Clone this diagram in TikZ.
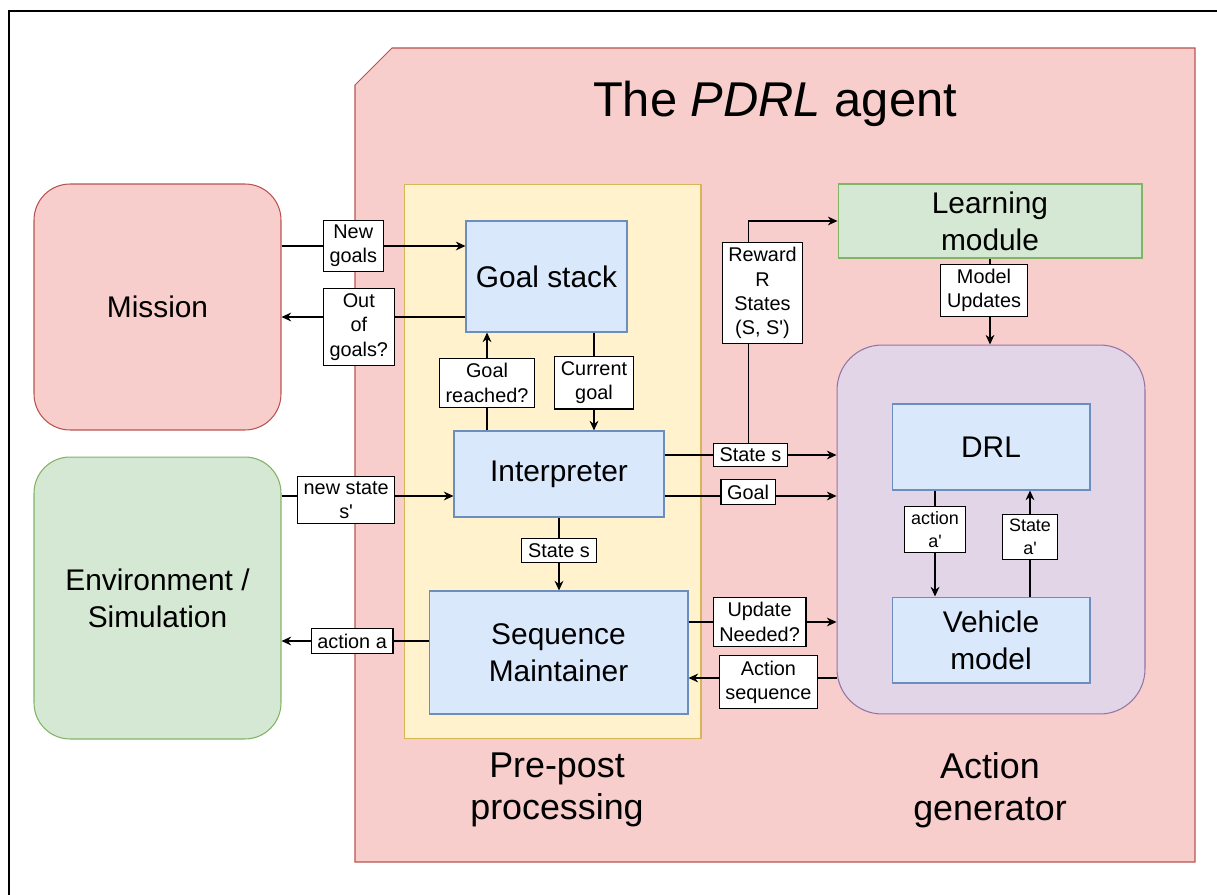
\documentclass[tikz,border=0pt]{standalone}
\usepackage{fontspec}
\setmainfont{Liberation Sans}
\usetikzlibrary{arrows.meta, positioning}

\definecolor{pinkfill}{HTML}{F8CECC}
\definecolor{pinkline}{HTML}{B85450}
\definecolor{greenfill}{HTML}{D5E8D4}
\definecolor{greenline}{HTML}{82B366}
\definecolor{bluefill}{HTML}{DAE8FC}
\definecolor{blueline}{HTML}{6C8EBF}
\definecolor{yellowfill}{HTML}{FFF2CC}
\definecolor{yellowline}{HTML}{D6B656}
\definecolor{purplefill}{HTML}{E1D5E7}
\definecolor{purpleline}{HTML}{9673A6}

\begin{document}
\begin{tikzpicture}[
            x=0.02cm, y=-0.02cm,
            block/.style  ={rectangle, draw=blueline, fill=bluefill, line width=0.6pt,
                            inner sep=0pt, align=center, font=\fontsize{17}{21}\selectfont},
            outer/.style  ={rectangle, rounded corners=0.72cm, line width=0.6pt,
                            inner sep=0pt, align=center, font=\fontsize{17}{21}\selectfont},
            section/.style={align=center, font=\fontsize{20.4}{24}\selectfont},
            lbl/.style    ={rectangle, draw=black, fill=white, line width=0.6pt,
                            inner xsep=3.5pt, inner ysep=2.8pt, align=center,
                            font=\fontsize{11.3}{13.8}\selectfont},
            small/.style  ={font=\fontsize{10.2}{13}\selectfont},
            arrow/.style  ={-{Stealth[length=5.5pt, width=5pt]}, line width=0.7pt}
        ]
        \useasboundingbox (0,0) rectangle (1217,895);
        \draw[line width=1.1pt] (9,895) -- (9,11) -- (1217,11);

        % outside world
        \node[outer, draw=pinkline, fill=pinkfill, minimum width=4.94cm, minimum height=4.92cm]
              (mission) at (157.5,307) {Mission};
        \node[outer, draw=greenline, fill=greenfill, minimum width=4.94cm, minimum height=5.64cm]
              (env) at (157.5,598) {Environment /\\Simulation};

        % the agent
        \draw[draw=pinkline, fill=pinkfill, line width=0.6pt]
              (355,85) -- (392,48) -- (1195,48) -- (1195,862) -- (355,862) -- cycle;
        \node[font=\fontsize{27.8}{33}\selectfont] (title) at (775,104) {The \textit{PDRL} agent};

        \node[rectangle, draw=yellowline, fill=yellowfill, line width=0.6pt,
              minimum width=5.94cm, minimum height=11.1cm] (prepost) at (552.5,461.5) {};
        \node[outer, draw=purpleline, fill=purplefill, rounded corners=0.9cm,
              minimum width=6.16cm, minimum height=7.38cm] (actgen) at (991,529.5) {};
        \node[section] (prepostlbl) at (557,790) {Pre-post\\processing};
        \node[section] (actgenlbl)  at (990,790) {Action\\generator};

        \node[block, draw=greenline, fill=greenfill, minimum width=6.08cm, minimum height=1.48cm]
              (learn) at (990,221) {Learning\\module};
        \node[block, minimum width=3.22cm, minimum height=2.22cm] (goalstack) at (546.5,276.5) {Goal stack};
        \node[block, minimum width=4.2cm,  minimum height=1.72cm] (interp)    at (559,474)     {Interpreter};
        \node[block, minimum width=5.18cm, minimum height=2.46cm] (seqm)      at (558.5,652.5) {Sequence\\Maintainer};
        \node[block, minimum width=3.96cm, minimum height=1.72cm] (drl)       at (991,447)     {DRL};
        \node[block, minimum width=3.96cm, minimum height=1.72cm, below=2.12cm of drl] (vehicle) {Vehicle\\model};

        % ports
        \coordinate (gs-in)   at ([yshift=0.61cm]goalstack.west);
        \coordinate (gs-out)  at ([yshift=-0.81cm]goalstack.west);
        \coordinate (gs-cur)  at ([xshift=0.95cm]goalstack.south);
        \coordinate (ip-rch)  at ([xshift=-1.44cm]interp.north);
        \coordinate (ip-in)   at ([yshift=-0.44cm]interp.west);
        \coordinate (ip-s)    at ([yshift=0.38cm]interp.east);
        \coordinate (ip-g)    at ([yshift=-0.44cm]interp.east);
        \coordinate (rw)      at ([xshift=1.68cm]ip-s);
        \coordinate (sm-out)  at ([yshift=0.23cm]seqm.west);
        \coordinate (sm-up)   at ([yshift=0.61cm]seqm.east);
        \coordinate (sm-seq)  at ([yshift=-0.51cm]seqm.east);
        \coordinate (drl-a)   at ([xshift=-1.12cm]drl.south);
        \coordinate (vm-s)    at ([xshift=0.78cm]vehicle.north);

        \draw[arrow] (mission.east |- gs-in) -- node[lbl, pos=0.39]{New\\goals} (gs-in);
        \draw[arrow] (gs-out) -- node[lbl, pos=0.58, yshift=-0.2cm]{Out\\of\\goals?} (mission.east |- gs-out);
        \draw[arrow] (gs-cur) -- node[lbl, pos=0.515]{Current\\goal} (gs-cur |- interp.north);
        \draw[arrow] (ip-rch) -- node[lbl, pos=0.485]{Goal\\reached?} (ip-rch |- goalstack.south);
        \draw[arrow] (env.east |- ip-in) -- node[lbl, pos=0.376, yshift=-0.08cm]{new state\\s\textquotesingle} (ip-in);
        \draw[arrow] (interp.south) -- node[lbl, pos=0.45]{State s} (interp.south |- seqm.north);
        \draw[arrow] (sm-out) -- node[lbl, pos=0.52]{action a} (env.east |- sm-out);
        \draw[arrow] (rw) |- node[lbl, pos=0.346, xshift=0.28cm]{Reward\\R\\States\\(S, S\textquotesingle)} (learn.west);
        \draw[arrow] (ip-s) -- node[lbl, pos=0.5]{State s} (actgen.west |- ip-s);
        \draw[arrow] (ip-g) -- node[lbl, pos=0.486, yshift=0.08cm]{Goal} (actgen.west |- ip-g);
        \draw[arrow] (learn.south) -- node[lbl, pos=0.37, xshift=-0.12cm]{Model\\Updates} (learn.south |- actgen.north);
        \draw[arrow] (sm-up) -- node[lbl, pos=0.48]{Update\\Needed?} (actgen.west |- sm-up);
        \draw[arrow] (actgen.west |- sm-seq) -- node[lbl, pos=0.46, yshift=-0.08cm]{Action\\sequence} (sm-seq);
        \draw[arrow] (drl-a) -- node[lbl, small, pos=0.37]{action\\a\textquotesingle} (drl-a |- vehicle.north);
        \draw[arrow] (vm-s) -- node[lbl, small, pos=0.56]{State\\a\textquotesingle} (vm-s |- drl.south);
\end{tikzpicture}
\end{document}
